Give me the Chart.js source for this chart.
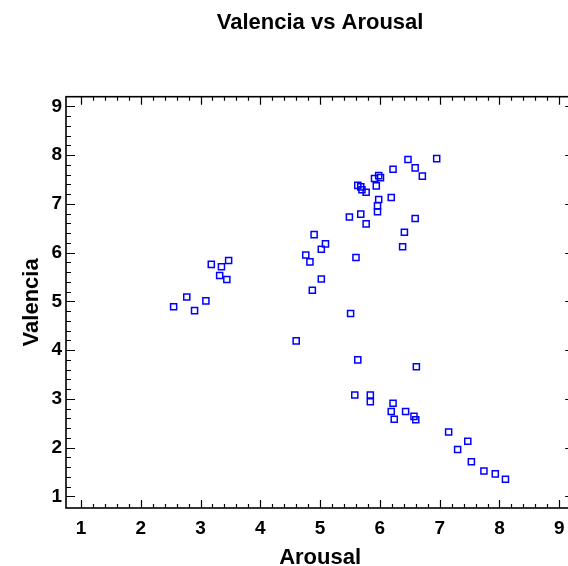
<!DOCTYPE html>
<html><head><meta charset="utf-8">
<script src="https://cdn.jsdelivr.net/npm/chart.js@4.4.1/dist/chart.umd.min.js"></script>
<style>
html,body{margin:0;padding:0;background:#fff;overflow:hidden;}
#wrap{width:568px;height:566px;overflow:hidden;position:relative;background:#fff;}
canvas{display:block;}
</style></head><body>
<div id="wrap"><canvas id="c" width="580" height="566" style="width:580px;height:566px"></canvas></div>
<script>
const chartTitle = 'Valencia vs Arousal';
const xAxisTitle = 'Arousal';
const yAxisTitle = 'Valencia';
const xTickValues = [1, 2, 3, 4, 5, 6, 7, 8, 9];
const yTickValues = [1, 2, 3, 4, 5, 6, 7, 8, 9];
const arousal = [3.18, 3.47, 3.35, 3.32, 3.44, 2.77, 3.09, 2.55, 2.90,
  6.95, 6.47, 6.59, 6.71, 6.22, 5.98, 6.01, 5.91, 5.94, 5.63, 5.68, 5.70, 5.77,
  5.98, 6.19, 5.96, 5.96, 5.49, 5.68, 5.77, 6.59, 6.41, 6.38, 4.90, 5.09, 5.02,
  4.76, 4.83, 5.60, 5.02, 4.87, 5.51, 4.60,
  5.63, 6.61, 5.58, 5.84, 5.84, 6.22, 6.19, 6.43, 6.57, 6.24, 6.60, 7.15, 7.47,
  7.30, 7.53, 7.74, 7.93, 8.10];
const valencia = [5.76, 5.84, 5.71, 5.53, 5.45, 5.09, 5.01, 4.89, 4.81,
  7.93, 7.91, 7.74, 7.57, 7.71, 7.58, 7.54, 7.52, 7.37, 7.38, 7.35, 7.29, 7.24,
  7.09, 7.13, 6.96, 6.84, 6.73, 6.79, 6.59, 6.70, 6.42, 6.12, 6.37, 6.18, 6.07,
  5.95, 5.81, 5.90, 5.46, 5.23, 4.75, 4.19,
  3.80, 3.66, 3.08, 3.08, 2.94, 2.91, 2.74, 2.74, 2.64, 2.58, 2.57, 2.32, 2.13,
  1.96, 1.71, 1.52, 1.46, 1.35];

const FONT = '"Liberation Sans", Arial, Helvetica, sans-serif';

function minorValues(majors, n) {
  const out = [];
  for (let i = 0; i < majors.length; i++) {
    out.push({v: majors[i], major: true});
    if (i < majors.length - 1) {
      const step = (majors[i + 1] - majors[i]) / n;
      for (let k = 1; k < n; k++) out.push({v: majors[i] + k * step, major: false});
    }
  }
  return out;
}

const framePlugin = {
  id: 'frame',
  beforeDatasetsDraw(chart) {
    const {ctx, chartArea: a, scales: {x, y}} = chart;
    ctx.save();
    ctx.strokeStyle = '#000';
    ctx.lineWidth = 1.6;
    ctx.strokeRect(a.left, a.top, a.right - a.left, a.bottom - a.top);
    ctx.lineWidth = 1.2;
    ctx.beginPath();
    minorValues(xTickValues, 5).forEach(t => {
      const px = Math.round(x.getPixelForValue(t.v)) + 0.5;
      const len = t.major ? 8 : 4;
      ctx.moveTo(px, a.bottom); ctx.lineTo(px, a.bottom - len);
      ctx.moveTo(px, a.top); ctx.lineTo(px, a.top + len);
    });
    minorValues(yTickValues, 5).forEach(t => {
      const py = Math.round(y.getPixelForValue(t.v)) + 0.5;
      const len = t.major ? 9 : 5;
      ctx.moveTo(a.left, py); ctx.lineTo(a.left + len, py);
      ctx.moveTo(a.right, py); ctx.lineTo(a.right - len, py);
    });
    ctx.stroke();
    ctx.restore();
  }
};

new Chart(document.getElementById('c'), {
  type: 'scatter',
  data: {
    datasets: [{
      data: arousal.map((a, i) => ({x: a, y: valencia[i]})),
      pointStyle: 'rect',
      pointRadius: 4.3,
      pointHoverRadius: 4.3,
      borderColor: '#0000ff',
      backgroundColor: 'rgba(255,255,255,0)',
      borderWidth: 1.5
    }]
  },
  options: {
    responsive: false,
    animation: false,
    devicePixelRatio: 1,
    layout: {padding: {left: 0, right: 5, top: 0, bottom: 0}},
    plugins: {
      legend: {display: false},
      tooltip: {enabled: false},
      title: {
        display: true,
        text: chartTitle,
        fullSize: false,
        color: '#000',
        font: {family: FONT, size: 22, weight: 'bold', lineHeight: 1.2},
        padding: {top: 10, bottom: 60.3}
      }
    },
    scales: {
      x: {
        type: 'linear',
        min: 0.75, max: 9.25,
        afterBuildTicks(s) { s.ticks = xTickValues.map(v => ({value: v})); },
        afterFit(s) { s.height = 58; },
        grid: {display: false, drawTicks: false},
        border: {display: false},
        ticks: {color: '#000', padding: 9, maxRotation: 0, autoSkip: false,
          font: {family: FONT, size: 19, weight: 'bold', lineHeight: 1.2}},
        title: {display: true, text: xAxisTitle, color: '#000',
          font: {family: FONT, size: 22, weight: 'bold', lineHeight: 0.7},
          padding: {top: 0, bottom: 0}}
      },
      y: {
        type: 'linear',
        min: 0.76, max: 9.2,
        afterBuildTicks(s) { s.ticks = yTickValues.map(v => ({value: v})); },
        afterFit(s) { s.width = 66; },
        grid: {display: false, drawTicks: false},
        border: {display: false},
        ticks: {color: '#000', padding: 4, autoSkip: false,
          font: {family: FONT, size: 19, weight: 'bold', lineHeight: 1.2}},
        title: {display: true, text: yAxisTitle, color: '#000',
          font: {family: FONT, size: 22, weight: 'bold', lineHeight: 1},
          padding: {top: 21, bottom: 0}}
      }
    }
  },
  plugins: [framePlugin]
});
</script>
</body></html>
